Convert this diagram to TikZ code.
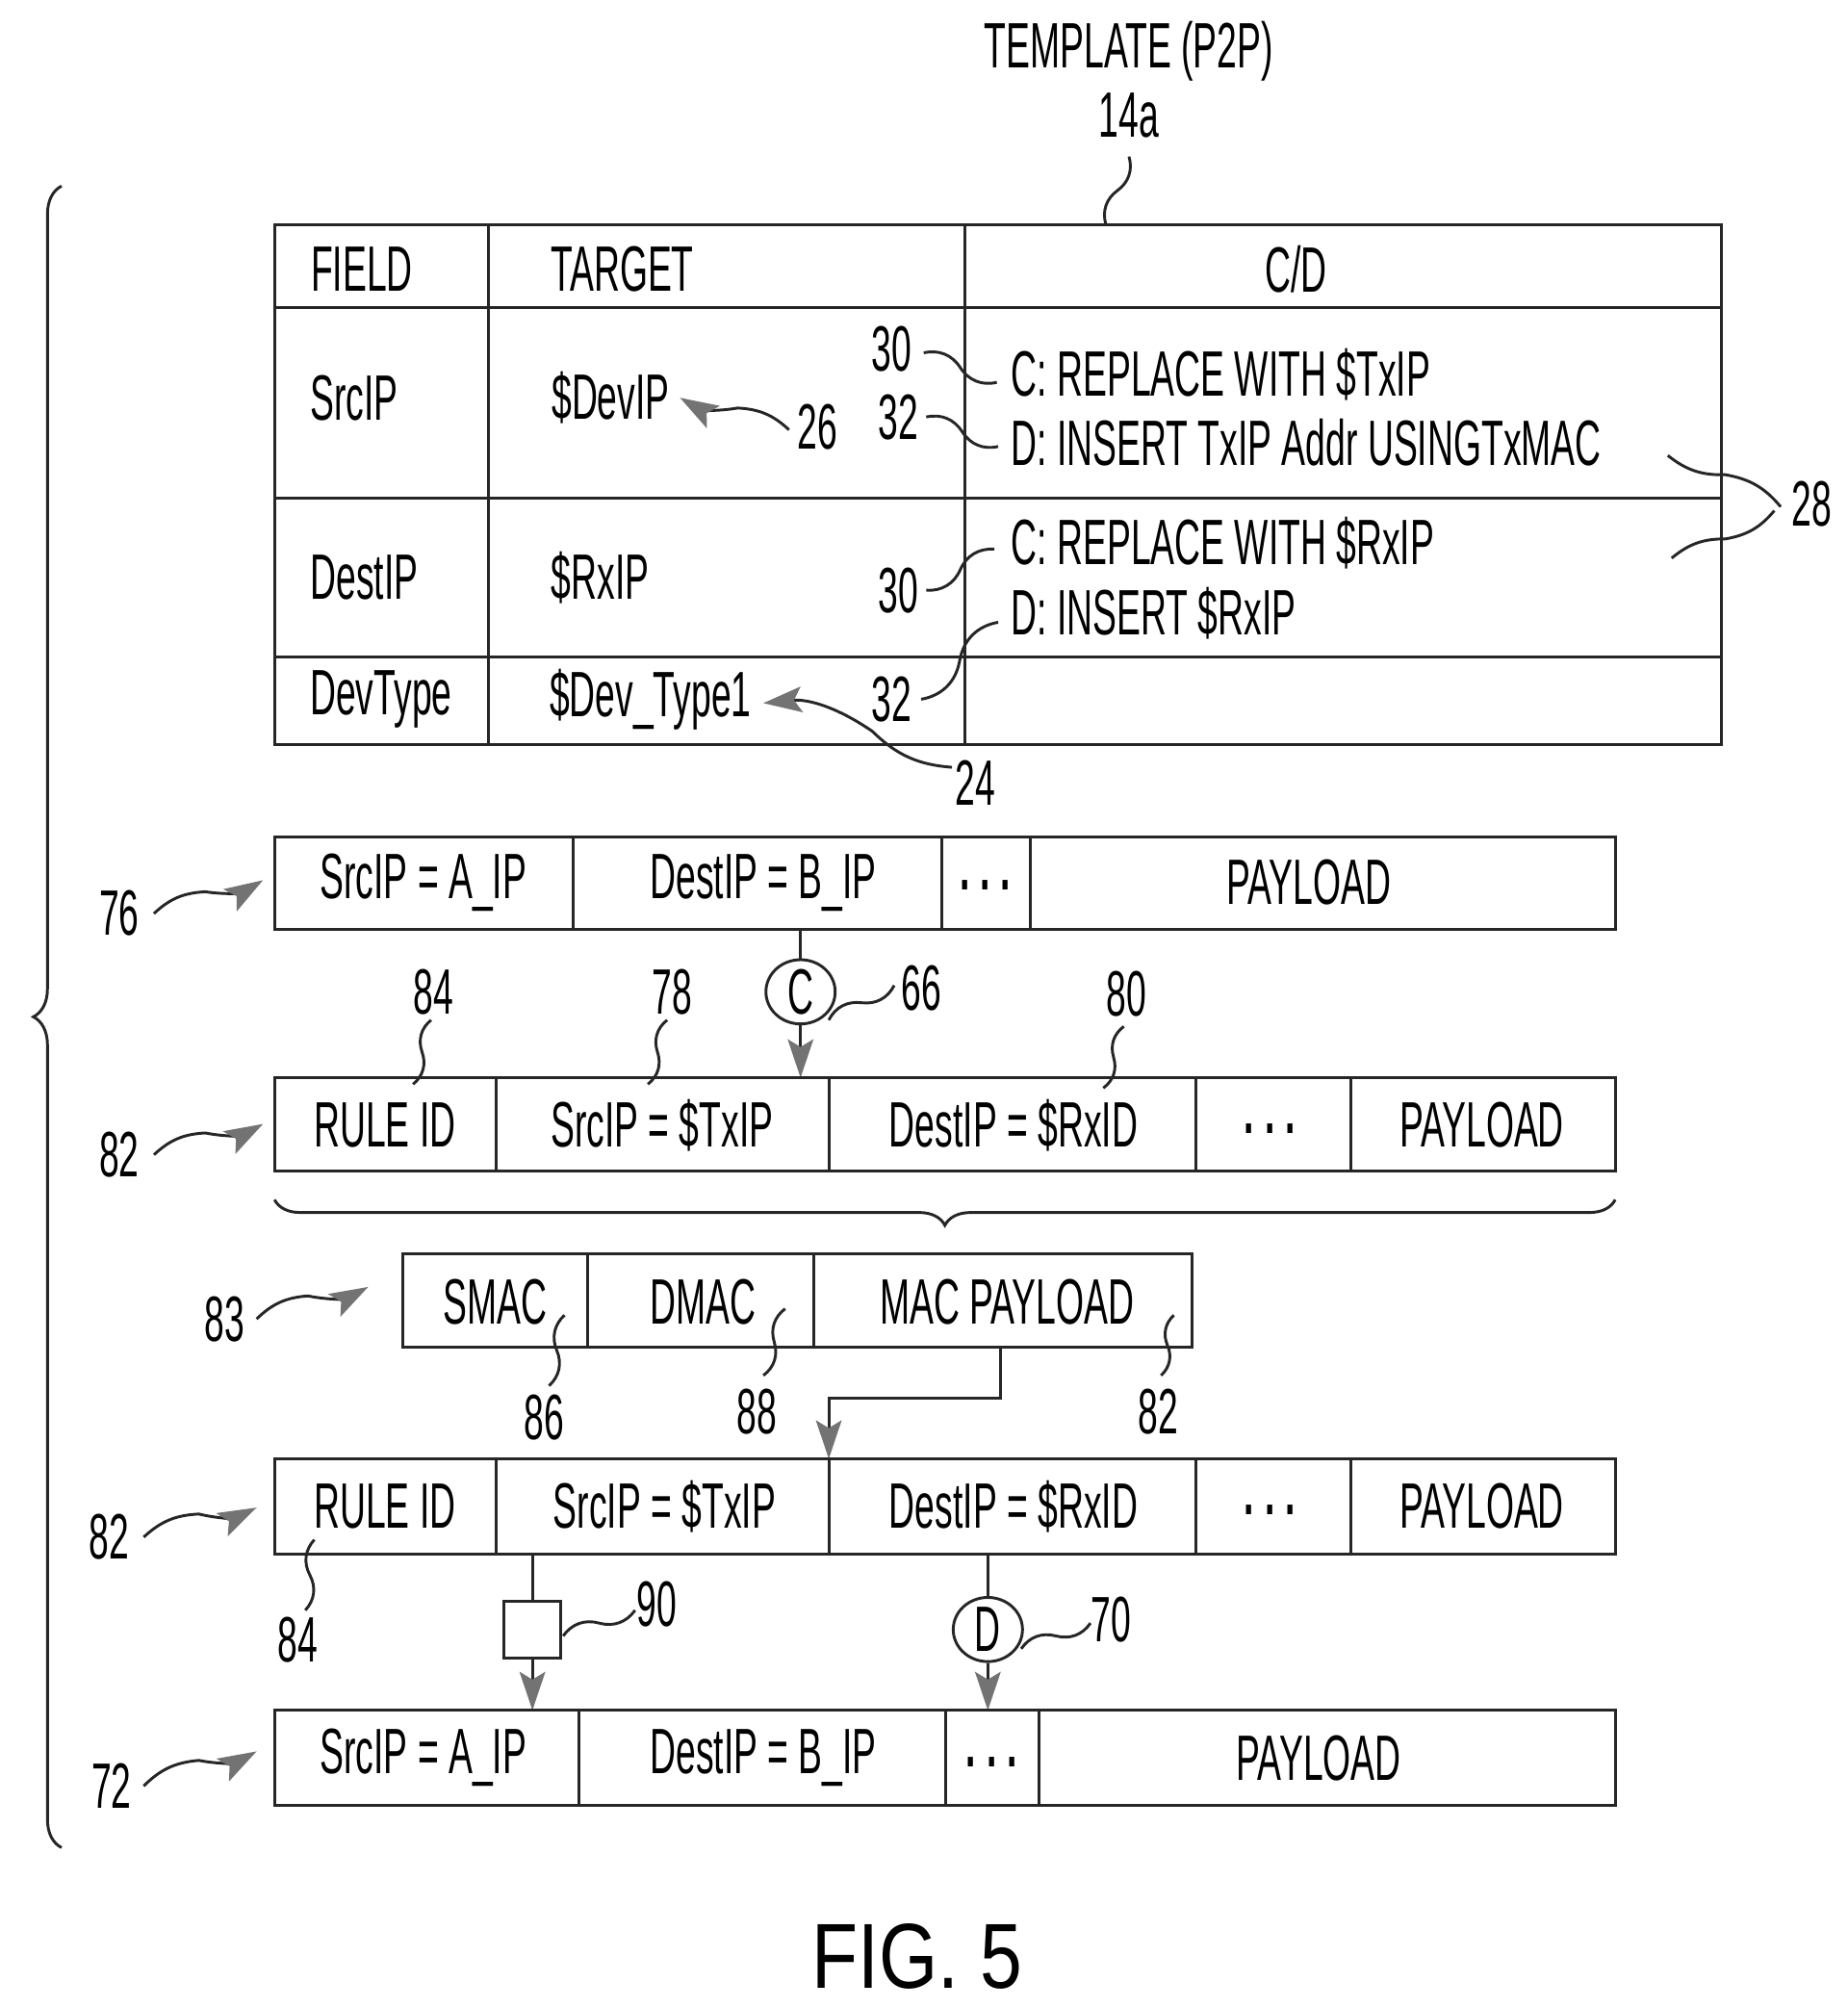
\documentclass[tikz,border=0pt]{standalone}
\usepackage{fontspec}
\setmainfont{Liberation Sans}[FakeStretch=0.56]
\newfontfamily\figfont{Liberation Sans}[FakeStretch=0.82]
\usetikzlibrary{calc,arrows.meta,decorations.pathreplacing,shapes.geometric}
\newcommand\lead[2]{\draw[ln] (#1) to[bend left=35] ($(#1)!.5!(#2)$) to[bend right=35] (#2);}
\newcommand\leadr[2]{\draw[ln] (#1) to[bend right=35] ($(#1)!.5!(#2)$) to[bend left=35] (#2);}
\newcommand\dts{\textbf{.\,.\,.}}
\begin{document}
\begin{tikzpicture}[x=1pt,y=-1pt,
  ln/.style={line width=2.2pt,draw=black!85},
  arr/.style={ln,-{Stealth[length=30pt,width=20pt,inset=6pt,color=black!55]}},
  t/.style={font=\fontsize{50}{50}\selectfont,inner sep=0pt},
  box/.style={ln,draw=black!85}]
\useasboundingbox (0,0) rectangle (1440,1565);
% title
\node[t] (tt) at (880,40) {TEMPLATE (P2P)};
\node[t] (t14) at (880,90) {14a};
\coordinate (tb) at (862,175);
\lead{880,122}{tb}
% table
\draw[box] (214,175) rectangle (1342,580);
\draw[ln] (381,175)--(381,580) (752,175)--(752,580);
\draw[ln] (214,240)--(1342,240) (214,388)--(1342,388) (214,512)--(1342,512);
\node[t] at (282,210) {FIELD};
\node[t] at (485,210) {TARGET};
\node[t] at (1010,210) {C/D};
\node[t] at (276,310) {SrcIP};
\node[t] (devip) at (476,310) {\$DevIP};
\node[t] at (284,450) {DestIP};
\node[t] at (468,450) {\$RxIP};
\node[t] at (297,545) {DevType};
\node[t] (dt1) at (507,545) {\$Dev\_Type1};
\node[t,anchor=west] at (788,292) {C: REPLACE WITH \$TxIP};
\node[t,anchor=west] at (788,345) {D: INSERT TxIP Addr USINGTxMAC};
\node[t,anchor=west] at (788,423) {C: REPLACE WITH \$RxIP};
\node[t,anchor=west] at (788,478) {D: INSERT \$RxIP};
\node[t] (n30a) at (695,272) {30};
\node[t] (n32a) at (700,325) {32};
\node[t] (n30b) at (700,460) {30};
\node[t] (n32b) at (695,545) {32};
\lead{720,275}{777,298}
\lead{722,325}{778,348}
\leadr{722,460}{775,428}
\leadr{718,545}{778,485}
\node[t] (n26) at (637,333) {26};
\draw[arr] (615,335) to[bend right=20] (575,318) to[bend left=20] (530,310);
\node[t] (n24) at (760,610) {24};
\draw[arr] (742,598) to[bend left=20] (680,570) to[bend right=20] (595,548);
\node[t] (n28) at (1412,393) {28};
\draw[ln] (1388,395) to[bend right=20] (1345,370) to[bend left=20] (1300,355);
\draw[ln] (1383,398) to[bend left=20] (1345,420) to[bend right=20] (1303,435);
% row 76
\draw[box] (214,652) rectangle (1259,724);
\draw[ln] (447,652)--(447,724) (734,652)--(734,724) (803,652)--(803,724);
\node[t] at (330,688) {SrcIP = A\_IP};
\node[t] at (595,688) {DestIP = B\_IP};
\node[t] at (768,690) {\dts};
\node[t] at (1020,688) {PAYLOAD};
\node[t] (n76) at (93,712) {76};
\draw[arr] (120,712) to[bend left=20] (160,695) to[bend right=20] (205,686);
% C circle
\node[ln,ellipse,draw,minimum width=54pt,minimum height=50pt,inner sep=0pt,t] (cc) at (624,773) {C};
\draw[ln] (624,724)--(cc.north);
\draw[arr] (cc.south)--(624,840);
\node[t] (n66) at (718,770) {66};
\lead{697,768}{646,795}
\node[t] (n84a) at (338,773) {84};
\leadr{336,795}{322,845}
\node[t] (n78) at (524,773) {78};
\leadr{520,795}{505,845}
\node[t] (n80) at (878,775) {80};
\leadr{876,800}{860,848}
% row 82a
\draw[box] (214,840) rectangle (1259,913);
\draw[ln] (387,840)--(387,913) (646,840)--(646,913) (932,840)--(932,913) (1053,840)--(1053,913);
\node[t] at (300,877) {RULE ID};
\node[t] at (516,877) {SrcIP = \$TxIP};
\node[t] at (790,877) {DestIP = \$RxID};
\node[t] at (990,880) {\dts};
\node[t] at (1155,877) {PAYLOAD};
\node[t] (n82a) at (93,900) {82};
\draw[arr] (120,900) to[bend left=20] (160,883) to[bend right=20] (205,876);
\draw[ln,decorate,decoration={brace,mirror,amplitude=20pt}] (214,935)--(1259,935);
% row 83
\draw[box] (314,977) rectangle (929,1050);
\draw[ln] (458,977)--(458,1050) (634,977)--(634,1050);
\node[t] at (386,1015) {SMAC};
\node[t] at (548,1015) {DMAC};
\node[t] at (785,1015) {MAC PAYLOAD};
\node[t] (n83) at (175,1028) {83};
\draw[arr] (200,1028) to[bend left=20] (240,1010) to[bend right=20] (287,1003);
\node[t] (n86) at (424,1105) {86};
\leadr{428,1080}{440,1025}
\node[t] (n88) at (590,1100) {88};
\leadr{595,1072}{612,1020}
\node[t] (n82m) at (903,1100) {82};
\leadr{905,1072}{915,1025}
\draw[arr] (780,1050)--(780,1090)--(646,1090)--(646,1137);
% row 82b
\draw[box] (214,1137) rectangle (1259,1211);
\draw[ln] (387,1137)--(387,1211) (646,1137)--(646,1211) (932,1137)--(932,1211) (1053,1137)--(1053,1211);
\node[t] at (300,1174) {RULE ID};
\node[t] at (518,1174) {SrcIP = \$TxIP};
\node[t] at (790,1174) {DestIP = \$RxID};
\node[t] at (990,1177) {\dts};
\node[t] at (1155,1174) {PAYLOAD};
\node[t] (n82b) at (85,1198) {82};
\draw[arr] (112,1198) to[bend left=20] (155,1180) to[bend right=20] (200,1175);
\node[t] (n84b) at (232,1278) {84};
\leadr{238,1255}{245,1200}
% square and D
\node[ln,draw,minimum size=44pt,inner sep=0pt] (sq) at (415,1270) {};
\draw[ln] (415,1211)--(sq.north);
\draw[arr] (sq.south)--(415,1333);
\node[t] (n90) at (512,1250) {90};
\lead{495,1255}{439,1275}
\node[ln,ellipse,draw,minimum width=54pt,minimum height=50pt,inner sep=0pt,t] (dd) at (770,1270) {D};
\draw[ln] (770,1211)--(dd.north);
\draw[arr] (dd.south)--(770,1333);
\node[t] (n70) at (866,1262) {70};
\lead{850,1265}{796,1285}
% row 72
\draw[box] (214,1333) rectangle (1259,1407);
\draw[ln] (451,1333)--(451,1407) (737,1333)--(737,1407) (810,1333)--(810,1407);
\node[t] at (330,1370) {SrcIP = A\_IP};
\node[t] at (595,1370) {DestIP = B\_IP};
\node[t] at (773,1373) {\dts};
\node[t] at (1028,1370) {PAYLOAD};
\node[t] (n72) at (87,1392) {72};
\draw[arr] (112,1392) to[bend left=20] (155,1372) to[bend right=20] (200,1365);
% big brace
\draw[ln,decorate,decoration={brace,amplitude=22pt}] (48,1440)--(48,145);
\node[inner sep=0pt,font=\figfont\fontsize{72}{72}\selectfont] (fig) at (715,1525) {FIG. 5};
\end{tikzpicture}
\end{document}
